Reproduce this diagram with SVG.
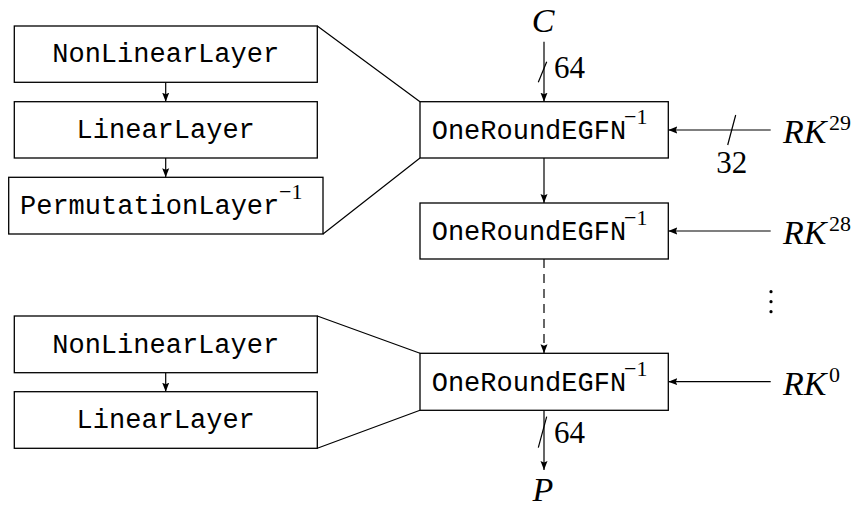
<svg xmlns="http://www.w3.org/2000/svg" width="860" height="507" viewBox="0 0 860 507">
<defs>
<marker id="ah" markerWidth="10" markerHeight="8" refX="9" refY="4" orient="auto" markerUnits="userSpaceOnUse">
<path d="M0,0.5 L9,4 L0,7.5 L1.5,4 z" fill="#000"/>
</marker>
<style>
.box{fill:#fff;stroke:#000;stroke-width:1.3}
.ln{fill:none;stroke:#000;stroke-width:1.2}
.arr{fill:none;stroke:#000;stroke-width:1.2;marker-end:url(#ah)}
.tt{font-family:"Liberation Mono","DejaVu Sans Mono",monospace;font-size:27px;fill:#000}
.sup{font-family:"Liberation Serif",serif;font-size:22px;fill:#000}
.mi{font-family:"Liberation Serif",serif;font-style:italic;font-size:34px;fill:#000}
.num{font-family:"Liberation Serif",serif;font-size:31px;fill:#000}
</style>
</defs>
<rect width="860" height="507" fill="#fff"/>

<g id="connectors">
<path class="ln" d="M317.3,26 L420,101.7 M323,234 L420,158"/>
<path class="ln" d="M317.3,316 L420,353.3 M317.3,448.3 L420,410.3"/>
<path class="arr" d="M165.7,82.3 L165.7,101.7"/>
<path class="arr" d="M165.7,158 L165.7,177.3"/>
<path class="arr" d="M165.7,372.7 L165.7,391.7"/>
<path class="arr" d="M544,41.7 L544,101.7"/>
<path class="ln" d="M538.3,82.3 L546.7,61.7"/>
<path class="arr" d="M544,158 L544,203"/>
<path class="arr" d="M544,259 L544,353.3" stroke-dasharray="9,6"/>
<path class="arr" d="M544,410.3 L544,470"/>
<path class="ln" d="M538.3,447.7 L546.7,416.7"/>
<path class="arr" d="M770.7,130 L668.3,130"/>
<path class="ln" d="M727.7,145 L735.7,115"/>
<path class="arr" d="M770.7,231 L668.3,231"/>
<path class="arr" d="M770.7,381.7 L668.3,381.7"/>
</g>

<g id="nll1">
<rect class="box" x="14.3" y="26" width="303" height="56.3"/>
<text class="tt" x="165.7" y="62" text-anchor="middle">NonLinearLayer</text>
</g>
<g id="ll1">
<rect class="box" x="14.3" y="101.7" width="303" height="56.3"/>
<text class="tt" x="165.7" y="138" text-anchor="middle">LinearLayer</text>
</g>
<g id="pl1">
<rect class="box" x="8.7" y="177.3" width="314.3" height="56.7"/>
<text class="tt" x="20" y="214">PermutationLayer</text>
<text class="sup" x="279" y="199">−1</text>
</g>
<g id="nll2">
<rect class="box" x="14.3" y="316" width="303" height="56.7"/>
<text class="tt" x="165.7" y="352.5" text-anchor="middle">NonLinearLayer</text>
</g>
<g id="ll2">
<rect class="box" x="14.3" y="391.7" width="303" height="56.6"/>
<text class="tt" x="165.7" y="428" text-anchor="middle">LinearLayer</text>
</g>

<g id="r1">
<rect class="box" x="420" y="101.7" width="248.3" height="56.3"/>
<text class="tt" x="431.7" y="139">OneRoundEGFN</text>
<text class="sup" x="624" y="124">−1</text>
</g>
<g id="r2">
<rect class="box" x="420" y="203" width="248.3" height="56"/>
<text class="tt" x="431.7" y="240">OneRoundEGFN</text>
<text class="sup" x="624" y="225">−1</text>
</g>
<g id="r3">
<rect class="box" x="420" y="353.3" width="248.3" height="57"/>
<text class="tt" x="431.7" y="391">OneRoundEGFN</text>
<text class="sup" x="624" y="376">−1</text>
</g>

<g id="labels">
<text class="mi" x="543" y="32" text-anchor="middle">C</text>
<text class="num" x="554" y="78">64</text>
<text class="num" x="554" y="443">64</text>
<text class="mi" x="543" y="501" text-anchor="middle">P</text>
<text class="num" x="731.7" y="173" text-anchor="middle">32</text>
<text class="mi" x="783" y="143">RK</text>
<text class="sup" x="829" y="130">29</text>
<text class="mi" x="783" y="244">RK</text>
<text class="sup" x="829" y="231">28</text>
<text class="mi" x="783" y="395">RK</text>
<text class="sup" x="829" y="382">0</text>
<circle cx="771" cy="291.7" r="1.6"/>
<circle cx="771" cy="301.7" r="1.6"/>
<circle cx="771" cy="311.7" r="1.6"/>
</g>
</svg>
